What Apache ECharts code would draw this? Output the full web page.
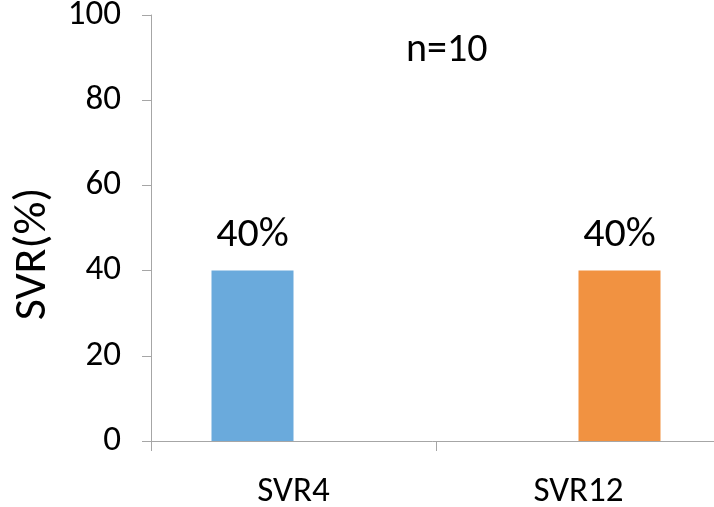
<!DOCTYPE html>
<html>
<head>
<meta charset="utf-8">
<script src="https://cdn.jsdelivr.net/npm/echarts@6/dist/echarts.min.js"></script>
<style>
  html, body { margin: 0; padding: 0; background: #fff; }
  #chart { width: 714px; height: 507px; }
</style>
</head>
<body>
<div id="chart"></div>
<script>
  // categories and values
  const categories = ['SVR4', 'SVR12'];
  const svr4Values = [40, null];
  const svr12Values = [null, 40];
  const yTicks = [0, 20, 40, 60, 80, 100];
  const note = 'n=10';

  const font = 'Carlito, Lato, "Open Sans", sans-serif';
  const axisGray = '#a6a6a6';

  const myChart = echarts.init(document.getElementById('chart'));

  function barSeries(name, data, color) {
    return {
      name: name,
      type: 'bar',
      data: data,
      barWidth: 82,
      barGap: '0%',
      itemStyle: { color: color },
      label: {
        show: true,
        position: 'top',
        distance: 14,
        formatter: '{c}%',
        color: '#000',
        fontFamily: font,
        fontSize: 42
      }
    };
  }

  myChart.setOption({
    animation: false,
    backgroundColor: '#fff',
    grid: { left: 151, top: 15, width: 570, height: 426, outerBoundsMode: 'none', containLabel: false },
    graphic: [{
      type: 'text',
      left: 406,
      top: 31,
      style: { text: note, fontFamily: font, fontSize: 40, fill: '#000' }
    }],
    xAxis: {
      type: 'category',
      data: categories,
      boundaryGap: true,
      axisLine: { lineStyle: { color: axisGray, width: 1 } },
      axisTick: { show: true, length: 10, lineStyle: { color: axisGray } },
      axisLabel: { color: '#000', fontFamily: font, fontSize: 35, margin: 34 }
    },
    yAxis: {
      type: 'value',
      min: yTicks[0],
      max: yTicks[yTicks.length - 1],
      interval: yTicks[1] - yTicks[0],
      name: 'SVR(%)',
      nameLocation: 'middle',
      nameRotate: 90,
      nameGap: 80,
      nameTextStyle: { color: '#000', fontFamily: font, fontSize: 46, padding: [0, 52, 0, 0] },
      splitLine: { show: false },
      axisLine: { show: true, lineStyle: { color: axisGray, width: 1 } },
      axisTick: { show: true, length: 9, lineStyle: { color: axisGray } },
      axisLabel: { color: '#000', fontFamily: font, fontSize: 35, margin: 30 }
    },
    series: [
      barSeries('SVR4', svr4Values, '#6aaadc'),
      barSeries('SVR12', svr12Values, '#f19241')
    ]
  });
</script>
</body>
</html>
